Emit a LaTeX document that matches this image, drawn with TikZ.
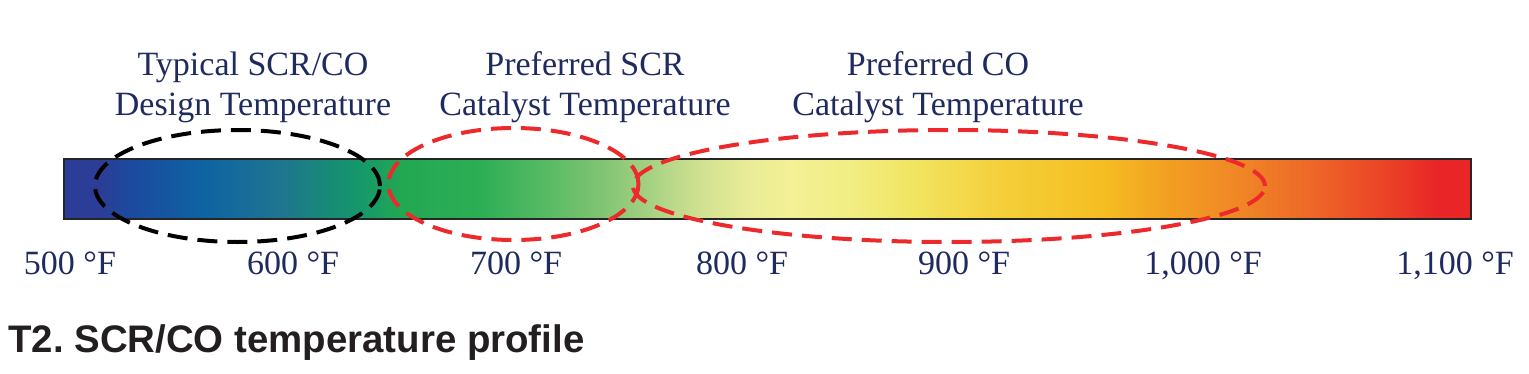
\documentclass[tikz,border=0pt]{standalone}
\usepackage{fontspec}
\setmainfont{Liberation Serif}
\newfontfamily\captionfont{Liberation Sans}
\usepackage{xcolor}
\usepackage{tikz}
\usetikzlibrary{shapes.geometric, positioning}

\definecolor{labelnavy}{HTML}{1F2A5E}
\definecolor{zonered}{HTML}{EC2A2C}
\definecolor{captionblack}{HTML}{231F20}

% colour stops along the bar (25bp = left edge, 75bp = right edge)
\pgfdeclarehorizontalshading{tempbar}{100bp}{%
  color(0bp)=(rgb,255:red,43;green,61;blue,150);
  color(25bp)=(rgb,255:red,43;green,61;blue,150);
  color(26.3bp)=(rgb,255:red,43;green,61;blue,150);
  color(27.4bp)=(rgb,255:red,28;green,74;blue,158);
  color(29.9bp)=(rgb,255:red,14;green,99;blue,163);
  color(32.7bp)=(rgb,255:red,31;green,117;blue,144);
  color(34.5bp)=(rgb,255:red,23;green,140;blue,117);
  color(35.6bp)=(rgb,255:red,22;green,153;blue,106);
  color(37.0bp)=(rgb,255:red,34;green,168;blue,82);
  color(39.8bp)=(rgb,255:red,45;green,174;blue,85);
  color(42.3bp)=(rgb,255:red,91;green,187;blue,101);
  color(44.1bp)=(rgb,255:red,128;green,196;blue,115);
  color(45.9bp)=(rgb,255:red,168;green,210;blue,131);
  color(47.6bp)=(rgb,255:red,208;green,225;blue,145);
  color(49.4bp)=(rgb,255:red,234;green,236;blue,151);
  color(50.8bp)=(rgb,255:red,243;green,240;blue,150);
  color(52.9bp)=(rgb,255:red,241;green,238;blue,132);
  color(55.4bp)=(rgb,255:red,241;green,227;blue,94);
  color(58.3bp)=(rgb,255:red,244;green,207;blue,58);
  color(61.9bp)=(rgb,255:red,245;green,190;blue,34);
  color(64.3bp)=(rgb,255:red,242;green,158;blue,34);
  color(66.4bp)=(rgb,255:red,240;green,138;blue,37);
  color(68.9bp)=(rgb,255:red,238;green,109;blue,39);
  color(72.4bp)=(rgb,255:red,234;green,61;blue,39);
  color(73.8bp)=(rgb,255:red,233;green,37;blue,40);
  color(75bp)=(rgb,255:red,233;green,37;blue,40);
  color(100bp)=(rgb,255:red,233;green,37;blue,40)}

\begin{document}
\begin{tikzpicture}[x=0.5pt, y=-0.5pt,
  heading/.style={align=center, text=labelnavy, font=\fontsize{17}{20}\selectfont},
  tick/.style={text=labelnavy, font=\fontsize{17}{20}\selectfont, anchor=base},
  zone/.style={ellipse, draw, dash pattern=on 10pt off 5pt, line width=2pt, inner sep=0pt},
  every node/.append style={inner sep=0pt}]
  \useasboundingbox (0,0) rectangle (1529,374);

  % temperature bar
  \node[draw=black!85, line width=0.9pt, shading=tempbar, anchor=north west,
        minimum width=703.5pt, minimum height=30pt] (bar) at (63,158) {};

  % temperature zones
  \node[zone, draw=black, minimum width=142.5pt, minimum height=56pt] (design) at (237.5,186) {};
  \node[zone, draw=zonered, minimum width=125pt, minimum height=56pt] (scr) at (513.5,184) {};
  \node[zone, draw=zonered, minimum width=316pt, minimum height=56pt] (co) at (949,186) {};

  % headings (base = baseline of the second line)
  \node[heading, anchor=base] (designlbl) at (253,115) {Typical SCR/CO\\Design Temperature};
  \node[heading, anchor=base] (scrlbl) at (585,115) {Preferred SCR\\Catalyst Temperature};
  \node[heading, anchor=base] (colbl) at (938,115) {Preferred CO\\Catalyst Temperature};

  % scale
  \node[tick] (t500) at (70,274) {500 °F};
  \node[tick] (t600) at (293,274) {600 °F};
  \node[tick] (t700) at (516,274) {700 °F};
  \node[tick] (t800) at (742,274) {800 °F};
  \node[tick] (t900) at (964,274) {900 °F};
  \node[tick] (t1000) at (1203,274) {1,000 °F};
  \node[tick] (t1100) at (1455,274) {1,100 °F};

  \node[anchor=base west, text=captionblack, font=\captionfont\bfseries\fontsize{19.2}{22}\selectfont]
    (caption) at (8,352) {T2.\ SCR/CO temperature profile};
\end{tikzpicture}
\end{document}
